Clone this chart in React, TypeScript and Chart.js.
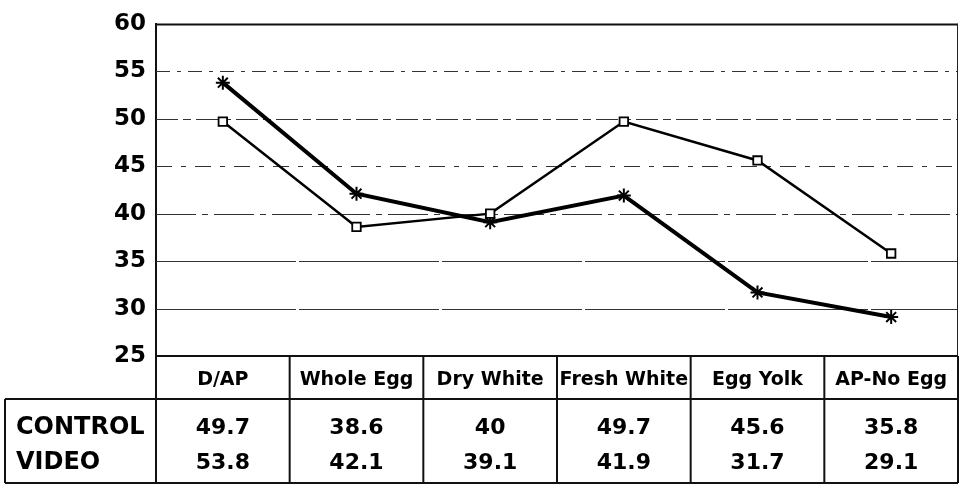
import React, { useEffect, useRef } from "react";
import { Chart, registerables } from "chart.js";

Chart.register(...registerables);

const categories = ["D/AP", "Whole Egg", "Dry White", "Fresh White", "Egg Yolk", "AP-No Egg"];
const controlValues = [49.7, 38.6, 40, 49.7, 45.6, 35.8];
const videoValues = [53.8, 42.1, 39.1, 41.9, 31.7, 29.1];
const seriesNames = ["CONTROL", "VIDEO"];
const yMin = 25;
const yMax = 60;
const yStep = 5;

const gridPlugin = {
  id: "customGrid",
  beforeDatasetsDraw(chart: any) {
    const { ctx, chartArea, scales } = chart;
    const y = scales.y;
    const dashes: Record<number, number[]> = {
      60: [],
      55: [14, 7, 4, 7],
      50: [22, 5, 8, 5],
      45: [16, 9, 5, 9],
      40: [40, 6, 6, 6],
      35: [140, 3],
      30: [140, 3],
    };
    ctx.save();
    for (let v = yMin + yStep; v <= yMax; v += yStep) {
      const py = Math.round(y.getPixelForValue(v)) + 0.5;
      ctx.beginPath();
      ctx.setLineDash(dashes[v] || []);
      ctx.strokeStyle = v === yMax ? "#111" : "#333";
      ctx.lineWidth = v === yMax ? 2 : 1;
      ctx.moveTo(chartArea.left, py);
      ctx.lineTo(chartArea.right, py);
      ctx.stroke();
    }
    ctx.setLineDash([]);
    ctx.strokeStyle = "#222";
    ctx.lineWidth = 1;
    ctx.beginPath();
    ctx.moveTo(chartArea.right - 0.5, chartArea.top);
    ctx.lineTo(chartArea.right - 0.5, chartArea.bottom);
    ctx.stroke();
    ctx.restore();
  },
};

const tablePlugin = {
  id: "dataTable",
  afterDraw(chart: any) {
    const { ctx, chartArea, scales } = chart;
    const x = scales.x;
    const n = categories.length;
    const colW = (chartArea.right - chartArea.left) / n;
    const top = chartArea.bottom;
    const headBottom = top + 43;
    const tableBottom = top + 127;
    const tableLeft = 5;
    ctx.save();
    ctx.strokeStyle = "#111";
    ctx.lineWidth = 2;
    ctx.beginPath();
    ctx.moveTo(chartArea.left, top);
    ctx.lineTo(chartArea.right, top);
    ctx.moveTo(tableLeft, headBottom);
    ctx.lineTo(chartArea.right, headBottom);
    ctx.moveTo(tableLeft, tableBottom);
    ctx.lineTo(chartArea.right, tableBottom);
    ctx.moveTo(tableLeft, headBottom);
    ctx.lineTo(tableLeft, tableBottom);
    ctx.stroke();
    ctx.beginPath();
    for (let i = 0; i <= n; i++) {
      const cx = i < n ? x.getPixelForValue(i) - colW / 2 : x.getPixelForValue(n - 1) + colW / 2;
      ctx.moveTo(cx, top);
      ctx.lineTo(cx, tableBottom);
    }
    ctx.stroke();
    ctx.fillStyle = "#000";
    ctx.textBaseline = "middle";
    ctx.textAlign = "center";
    ctx.font = 'bold 19px "DejaVu Sans"';
    categories.forEach((c, i) => {
      ctx.fillText(c, x.getPixelForValue(i), top + 24);
    });
    const rows = [controlValues, videoValues];
    const rowY = [top + 72, top + 107];
    ctx.font = 'bold 22px "DejaVu Sans"';
    rows.forEach((vals, r) => {
      vals.forEach((v, i) => {
        ctx.fillText(String(v), x.getPixelForValue(i), rowY[r]);
      });
    });
    ctx.textAlign = "left";
    ctx.font = 'bold 24px "DejaVu Sans"';
    seriesNames.forEach((s, r) => ctx.fillText(s, tableLeft + 11, rowY[r]));
    ctx.restore();
  },
};

export default function App() {
  const ref = useRef<HTMLCanvasElement>(null);
  useEffect(() => {
    if (!ref.current) return;
    const chart = new Chart(ref.current, {
      type: "line",
      data: {
        labels: categories,
        datasets: [
          {
            label: seriesNames[0],
            data: controlValues,
            borderColor: "#000",
            borderWidth: 2.5,
            pointStyle: "rect",
            pointRadius: 6,
            pointBorderWidth: 1.8,
            pointBackgroundColor: "#fff",
            pointBorderColor: "#000",
            tension: 0,
          },
          {
            label: seriesNames[1],
            data: videoValues,
            borderColor: "#000",
            borderWidth: 4,
            pointStyle: "star",
            pointRadius: 7,
            pointBorderWidth: 2,
            pointBackgroundColor: "#000",
            pointBorderColor: "#000",
            tension: 0,
          },
        ],
      },
      plugins: [gridPlugin, tablePlugin],
      options: {
        animation: false,
        responsive: false,
        maintainAspectRatio: false,
        layout: { autoPadding: false, padding: { top: 16, right: 2, bottom: 129, left: 0 } },
        plugins: { legend: { display: false }, tooltip: { enabled: false } },
        scales: {
          x: { display: false, offset: true },
          y: {
            min: yMin,
            max: yMax,
            ticks: {
              stepSize: yStep,
              color: "#000",
              padding: 10,
              font: { family: "DejaVu Sans", weight: "bold", size: 23 },
            },
            grid: { display: false, drawTicks: false },
            border: { display: true, color: "#111", width: 2 },
            afterFit: (scale: any) => {
              scale.width = 156;
            },
          },
        },
      },
    });
    return () => chart.destroy();
  }, []);
  return (
    <div style={{ position: "fixed", left: 0, top: 0, width: 960, height: 485, background: "#fff" }}>
      <canvas ref={ref} width={960} height={485} style={{ width: 960, height: 485, display: "block" }} />
    </div>
  );
}
